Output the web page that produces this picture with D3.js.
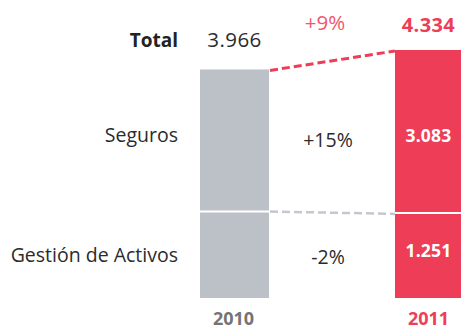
<!DOCTYPE html>
<html>
<head>
<meta charset="utf-8">
<script src="https://cdn.jsdelivr.net/npm/d3@7"></script>
<style>
  html, body { margin: 0; padding: 0; background: #fff; }
  svg { display: block; font-family: "Open Sans", "Noto Sans", sans-serif; }
</style>
</head>
<body>
<svg id="chart" width="461" height="329"></svg>
<script>
// Business lines and yearly figures (millions)
const years = ["2010", "2011"];
const segments = ["Seguros", "Gestión de Activos"];
const values2010 = [2689, 1277];
const values2011 = [3083, 1251];
const totals = [3966, 4334];
const totalLabels = ["3.966", "4.334"];
const segmentLabels2011 = ["3.083", "1.251"];
const totalChange = "+9%";
const segmentChanges = ["+15%", "-2%"];

const GREY = "#bcc0c7";
const RED = "#ee3d57";
const TEXT = "#2b2b2b";

const svg = d3.select("#chart");

const x = d3.scaleBand()
  .domain(years)
  .range([200, 464])
  .paddingInner(0.646)
  .paddingOuter(0);

// value axis; bars stand on a small plinth below the zero line
const plinthBottom = 298;
const y = d3.scaleLinear().domain([0, totals[1]]).range([279, 50]);

const stackRows = [values2010, values2011].map((vals, i) => {
  const bottom = vals[1];
  return {
    year: years[i],
    parts: [
      { key: segments[0], y0: bottom, y1: bottom + vals[0] },
      { key: segments[1], y0: null, y1: bottom }
    ]
  };
});

const fills = { "2010": GREY, "2011": RED };

// stacked bars
stackRows.forEach(row => {
  const g = svg.append("g");
  g.selectAll("rect")
    .data(row.parts)
    .join("rect")
    .attr("x", x(row.year))
    .attr("width", x.bandwidth())
    .attr("y", d => y(d.y1))
    .attr("height", d => (d.y0 === null ? plinthBottom : y(d.y0)) - y(d.y1))
    .attr("fill", fills[row.year]);
  // white divider between segments
  g.append("line")
    .attr("x1", x(row.year)).attr("x2", x(row.year) + x.bandwidth())
    .attr("y1", y(row.parts[1].y1)).attr("y2", y(row.parts[1].y1))
    .attr("stroke", "#fff").attr("stroke-width", 2);
});

const xr2010 = x("2010") + x.bandwidth();
const xl2011 = x("2011");

// connector lines between the two years
svg.append("line")
  .attr("x1", xr2010 + 1).attr("y1", y(totals[0]) + 1)
  .attr("x2", xl2011).attr("y2", y(totals[1]) + 1)
  .attr("stroke", RED).attr("stroke-width", 3)
  .attr("stroke-dasharray", "8,4");
svg.append("line")
  .attr("x1", xr2010 + 1).attr("y1", y(values2010[1]))
  .attr("x2", xl2011).attr("y2", y(values2011[1]) + 1)
  .attr("stroke", "#c4c8ce").attr("stroke-width", 2.5)
  .attr("stroke-dasharray", "8,4");

const cx2010 = x("2010") + x.bandwidth() / 2;
const cx2011 = x("2011") + x.bandwidth() / 2 - 1;
const midX = (xr2010 + xl2011) / 2 - 4;

// totals row
svg.append("text").attr("x", 178).attr("y", 47)
  .attr("text-anchor", "end").attr("font-size", 19).attr("font-weight", 700)
  .attr("fill", "#222").text("Total");
svg.append("text").attr("x", cx2010).attr("y", 47)
  .attr("text-anchor", "middle").attr("font-size", 20.5)
  .attr("letter-spacing", 0.4)
  .attr("fill", TEXT).text(totalLabels[0]);
svg.append("text").attr("x", cx2011).attr("y", 32)
  .attr("text-anchor", "middle").attr("font-size", 20).attr("font-weight", 700)
  .attr("letter-spacing", 0.4)
  .attr("fill", RED).text(totalLabels[1]);
svg.append("text").attr("x", midX - 3).attr("y", 30)
  .attr("text-anchor", "middle").attr("font-size", 20.5)
  .attr("fill", "#f0566c").text(totalChange);

// segment names and changes
const segLabelY = [142, 262];
segments.forEach((s, i) => {
  svg.append("text").attr("x", 178).attr("y", segLabelY[i])
    .attr("text-anchor", "end").attr("font-size", 19.5)
    .attr("fill", TEXT).text(s);
  svg.append("text").attr("x", midX).attr("y", segLabelY[i] + (i === 0 ? 5 : 2))
    .attr("text-anchor", "middle").attr("font-size", 19.5)
    .attr("fill", TEXT).text(segmentChanges[i]);
});

// 2011 segment values inside the bar
const inY = [142, 257];
segmentLabels2011.forEach((t, i) => {
  svg.append("text").attr("x", cx2011).attr("y", inY[i])
    .attr("text-anchor", "middle").attr("font-size", 17.5).attr("font-weight", 700)
    .attr("letter-spacing", 0.2)
    .attr("fill", "#fff").text(t);
});

// year axis
svg.selectAll("text.year")
  .data(years)
  .join("text")
  .attr("class", "year")
  .attr("x", d => x(d) + x.bandwidth() / 2 - 1)
  .attr("y", 325)
  .attr("text-anchor", "middle").attr("font-size", 18).attr("font-weight", 700)
  .attr("fill", d => d === "2011" ? RED : "#747474")
  .text(d => d);
</script>
</body>
</html>
